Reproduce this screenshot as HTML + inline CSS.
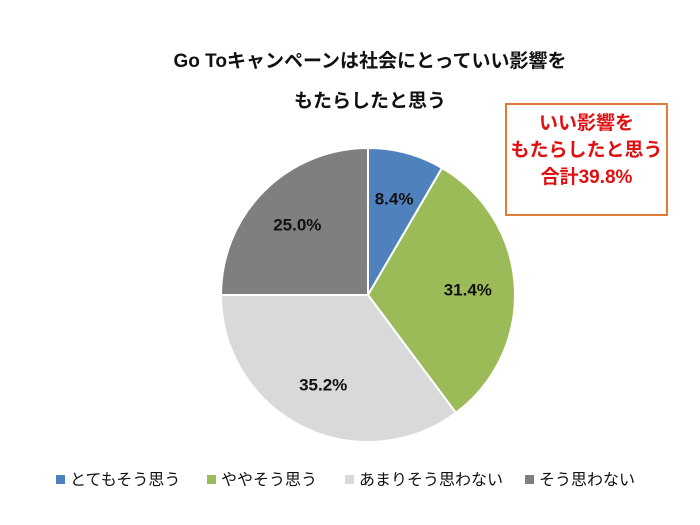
<!DOCTYPE html>
<html><head><meta charset="utf-8"><style>
body{margin:0;width:700px;height:525px;background:#fff;overflow:hidden;font-family:"Liberation Sans","Noto Sans CJK JP",sans-serif;position:relative}
.t{position:absolute;left:0;width:740px;text-align:center;font-weight:bold;font-size:19px;color:#111}
#box{position:absolute;left:505px;top:103px;width:159px;height:104px;border:2px solid #e07b39;color:#e01010;font-weight:bold;font-size:19px;line-height:27px;text-align:center;padding-top:5px;box-sizing:content-box}
.leg{position:absolute;top:466px;font-size:16px;color:#111;white-space:nowrap}
.leg i{display:inline-block;width:9px;height:9px;margin-right:5px;vertical-align:1px}
</style></head><body>
<div class="t" style="top:46px">Go Toキャンペーンは社会にとっていい影響を</div>
<div class="t" style="top:86px">もたらしたと思う</div>
<div id="box">いい影響を<br>もたらしたと思う<br>合計39.8%</div>
<svg id="pie" width="700" height="525" style="position:absolute;left:0;top:0"></svg>
<div class="leg" style="left:56px"><i style="background:#4f81bd"></i>とてもそう思う</div>
<div class="leg" style="left:207px"><i style="background:#9bbb59"></i>ややそう思う</div>
<div class="leg" style="left:345px"><i style="background:#d9d9d9"></i>あまりそう思わない</div>
<div class="leg" style="left:525px"><i style="background:#7f7f7f"></i>そう思わない</div>
<script>
const categories=["とてもそう思う","ややそう思う","あまりそう思わない","そう思わない"];
const values=[8.4,31.4,35.2,25.0];
const labels=["8.4%","31.4%","35.2%","25.0%"];
const colors=["#4f81bd","#9bbb59","#d9d9d9","#7f7f7f"];
const svg=document.getElementById('pie');
const ns="http://www.w3.org/2000/svg";
const cx=368,cy=295,r=147;
const total=values.reduce((a,b)=>a+b,0);
function pt(frac,rad){const a=frac*2*Math.PI-Math.PI/2;return [cx+rad*Math.cos(a),cy+rad*Math.sin(a)];}
let acc=0;
values.forEach((v,i)=>{
  const s=acc/total,e=(acc+v)/total;acc+=v;
  const p0=pt(s,r),p1=pt(e,r);
  const path=document.createElementNS(ns,'path');
  path.setAttribute('d',`M${cx},${cy}L${p0[0]},${p0[1]}A${r},${r} 0 ${e-s>0.5?1:0} 1 ${p1[0]},${p1[1]}Z`);
  path.setAttribute('fill',colors[i]);path.setAttribute('stroke','#fff');path.setAttribute('stroke-width','2');
  
  
  svg.appendChild(path);
  const m=pt((s+e)/2,r*0.68);
  const t=document.createElementNS(ns,'text');
  t.setAttribute('x',m[0]);t.setAttribute('y',m[1]+6);t.setAttribute('text-anchor','middle');
  t.setAttribute('font-size','17');t.setAttribute('font-weight','bold');t.setAttribute('fill','#111');
  t.setAttribute('font-family','"Liberation Sans",sans-serif');
  t.textContent=labels[i];
  
  
  svg.appendChild(t);
});
</script>
</body></html>
